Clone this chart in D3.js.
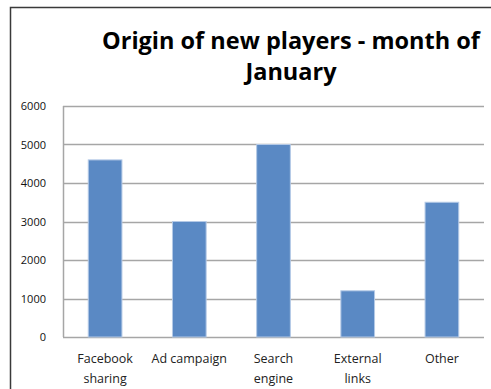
<!DOCTYPE html>
<html>
<head>
<meta charset="utf-8">
<script src="https://cdn.jsdelivr.net/npm/d3@7"></script>
<style>
  body { margin: 0; background: #fff; }
  text { font-family: "Open Sans", sans-serif; }
</style>
</head>
<body>
<div id="chart"></div>
<script>
// Origin of new players - month of January
const categories = ["Facebook sharing", "Ad campaign", "Search engine", "External links", "Other"];
const catLines = [["Facebook", "sharing"], ["Ad campaign"], ["Search", "engine"], ["External", "links"], ["Other"]];
const players = [4600, 3000, 5000, 1200, 3500];
const yTicks = [0, 1000, 2000, 3000, 4000, 5000, 6000];
const titleLines = ["Origin of new players - month of", "January"];

const W = 491, H = 389;
const margin = { top: 106, right: 7, bottom: 52, left: 63 },
    width = W - margin.left - margin.right,
    height = H - margin.top - margin.bottom;

const svg = d3.select("#chart").append("svg")
    .attr("width", W)
    .attr("height", H);

// outer chart border (cut off on right and bottom)
svg.append("rect")
    .attr("x", 10.5).attr("y", 7.5)
    .attr("width", 600).attr("height", 500)
    .attr("fill", "none")
    .attr("stroke", "#3a3a3a")
    .attr("stroke-width", 1.5);

// title
svg.append("text")
    .attr("x", 291)
    .attr("text-anchor", "middle")
    .style("font-size", "23.5px")
    .style("font-weight", "bold")
    .attr("fill", "#000")
    .selectAll("tspan")
    .data(titleLines)
    .enter().append("tspan")
    .attr("x", 291)
    .attr("y", (d, i) => 49 + i * 31)
    .text(d => d);

const g = svg.append("g")
    .attr("transform", "translate(" + margin.left + "," + margin.top + ")");

const x = d3.scaleBand()
    .domain(categories)
    .range([0, width])
    .paddingInner(0.6)
    .paddingOuter(0.3);

const y = d3.scaleLinear()
    .domain([0, 6000])
    .range([height, 0]);

// gridlines
g.selectAll(".grid")
    .data(yTicks)
    .enter().append("line")
    .attr("class", "grid")
    .attr("x1", 0).attr("x2", width)
    .attr("y1", d => Math.round(y(d)) + 0.5)
    .attr("y2", d => Math.round(y(d)) + 0.5)
    .attr("stroke", "#a6a6a6")
    .attr("stroke-width", 1.5);

// left axis line
g.append("line")
    .attr("x1", 0.5).attr("x2", 0.5)
    .attr("y1", 0).attr("y2", height)
    .attr("stroke", "#a6a6a6")
    .attr("stroke-width", 1.5);

// y axis labels
const yAxis = g.append("g")
    .call(d3.axisLeft(y).tickValues(yTicks).tickFormat(d3.format("d")).tickSize(0).tickPadding(17));
yAxis.select(".domain").remove();
yAxis.selectAll("text")
    .style("font-family", "'Open Sans', sans-serif")
    .style("font-size", "11px")
    .attr("fill", "#111");

// bars
g.selectAll(".bar")
    .data(players)
    .enter().append("rect")
    .attr("class", "bar")
    .attr("x", (d, i) => x(categories[i]))
    .attr("y", d => y(d))
    .attr("width", x.bandwidth())
    .attr("height", d => height - y(d))
    .attr("fill", "#5a89c4")
    .attr("stroke", "#b4c9e6")
    .attr("stroke-width", 1);

// x labels
const xl = g.selectAll(".xlabel")
    .data(categories)
    .enter().append("text")
    .attr("class", "xlabel")
    .attr("text-anchor", "middle")
    .style("font-size", "12.5px")
    .attr("fill", "#222");
xl.selectAll("tspan")
    .data((d, i) => catLines[i].map(t => ({ t, c: d })))
    .enter().append("tspan")
    .attr("x", d => x(d.c) + x.bandwidth() / 2)
    .attr("y", (d, j) => height + 26 + j * 20)
    .text(d => d.t);
</script>
</body>
</html>
